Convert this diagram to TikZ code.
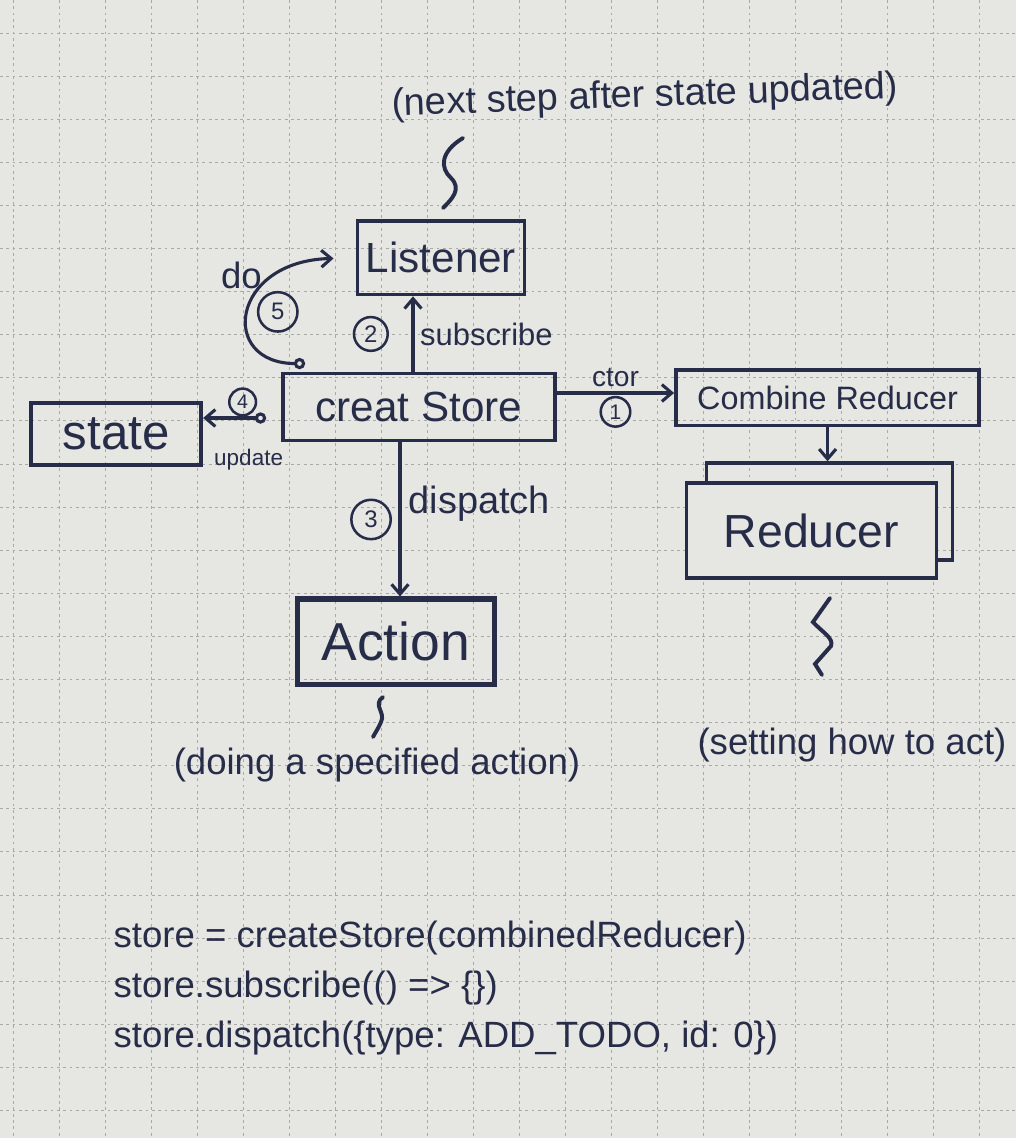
\documentclass[tikz,border=0pt]{standalone}
\usepackage{fontspec}
\setmainfont{Liberation Sans}
\usetikzlibrary{arrows.meta,positioning,calc}
\definecolor{ink}{HTML}{272D48}
\definecolor{paper}{HTML}{E6E7E3}
\definecolor{gridc}{HTML}{A9AAA6}
\newcommand{\fs}[1]{\fontsize{#1}{#1}\selectfont}

\begin{document}
\begin{tikzpicture}[
  x=0.025cm, y=-0.025cm,
  box/.style={draw=ink,line width=2.6pt,inner sep=0pt,text=ink},
  lbl/.style={text=ink,inner sep=1pt},
  num/.style={draw=ink,circle,line width=1.8pt,inner sep=1pt,minimum size=24pt,text=ink,font=\fs{17}},
  ar/.style={-{Straight Barb[length=7pt,width=12pt]},line width=2.2pt,draw=ink},
  squig/.style={line width=2.8pt,draw=ink,line cap=round},
  gridline/.style={draw=gridc,line width=0.6pt,dash pattern=on 2pt off 2.5pt}
]
\useasboundingbox (0,0) rectangle (1016,1138);
\fill[paper] (0,0) rectangle (1016,1138);
\foreach \gx in {0,...,21} \draw[gridline] ({13+46*\gx},0) -- ({13+46*\gx},1138);
\foreach \gy in {0,...,25} \draw[gridline] (0,{33+43.1*\gy}) -- (1016,{33+43.1*\gy});

% boxes
\node[box,minimum width=6.8cm,minimum height=1.68cm,font=\fs{30}] (store) at (419,407) {creat Store};
\node[box,minimum width=4.18cm,minimum height=1.83cm,font=\fs{30},above=1.88cm of store,xshift=0.55cm] (listener) {Listener};
\node[box,minimum width=4.25cm,minimum height=1.55cm,font=\fs{35},left=1.95cm of store,yshift=-0.68cm] (state) {state};
\node[box,minimum width=7.58cm,minimum height=1.38cm,font=\fs{23},right=2.93cm of store,yshift=0.23cm] (combine) {Combine Reducer};
\node[box,minimum width=6.25cm,minimum height=2.38cm,font=\fs{33},below=1.35cm of combine,xshift=-0.4cm] (reducer) {Reducer};
\node[box,minimum width=6.15cm,minimum height=2.43cm] (reducerback) at ($(reducer)+(18,-19)$) {};
\node[box,fill=paper,minimum width=6.25cm,minimum height=2.38cm,font=\fs{33}] (reducer) at (reducer) {Reducer};
\node[box,line width=3.6pt,minimum width=4.93cm,minimum height=2.13cm,font=\fs{38},below=3.85cm of store,xshift=-0.58cm] (action) {Action};

% notes
\node[lbl,font=\fs{27},rotate=2] (nexttxt) at (645,97) {(next step after state updated)};
\node[lbl,font=\fs{26}] (doingtxt) at (377,765) {(doing a specified action)};
\node[lbl,font=\fs{26}] (settingtxt) at (852,745) {(setting how to act)};
\node[lbl,font=\fontsize{26}{35.5}\selectfont,align=left,anchor=north west] (code) at (112,919)
  {store = createStore(combinedReducer)\\
   store.subscribe(() => \{\})\\
   store.dispatch(\{type: ADD\_TODO, id: 0\})};

% squiggles
\draw[squig] (463,138) .. controls (440,152) and (440,168) .. (451,178) .. controls (462,189) and (452,199) .. (443,208);
\draw[squig] (383,697) .. controls (372,705) and (386,712) .. (381,722) .. controls (378,729) and (375,733) .. (373,737);
\draw[squig] (830,598) -- (813,622) .. controls (822,632) and (834,638) .. (831,646) -- (815,664) -- (822,675);

% connectors
\coordinate (sub) at (413,0);
\coordinate (dsp) at (400,0);
\coordinate (ctorln) at (0,393);
\coordinate (updstart) at ($(store.west)+(-15,11)$);
\coordinate (dostart) at ($(store.north west)+(24,-8)$);

\draw[ar] (store.north -| sub) -- node[lbl,right=3pt,font=\fs{22}] (sublbl) {subscribe}
  node[num,left=0.6cm] (n2) {2} (listener.south -| sub);
\draw[ar] (store.south -| dsp) -- node[lbl,right=4pt,pos=.4,font=\fs{27}] (dsplbl) {dispatch}
  node[num,left=0.2cm,minimum height=28pt] (n3) {3} (action.north -| dsp);
\draw[ar] (store.east |- ctorln) -- node[lbl,above=2pt,font=\fs{20}] (ctorlbl) {ctor}
  node[num,below=2pt,minimum size=21pt,font=\fs{15}] (n1) {1} (combine.west |- ctorln);
\draw[ar,{Circle[open,length=8pt]}-{Straight Barb[length=7pt,width=12pt]}] (updstart) -- node[num,above=1pt,xshift=0.2cm,minimum size=19pt,font=\fs{14}] (n4) {4}
  node[lbl,below=0.7cm,xshift=0.35cm,font=\fs{16}] (updlbl) {update} (state.east |- updstart);
\draw[ar,{Circle[open,length=8pt]}-{Straight Barb[length=7pt,width=12pt]},shorten >=0.55cm] (dostart) .. controls +(-87,0) and +(-125,3) ..
  node[num,pos=.5,right=0.15cm,minimum height=28pt] (n5) {5}
  node[lbl,pos=.75,left=0.45cm,font=\fs{26}] (dolbl) {do} (listener.west);
\draw[ar] (combine.south) -- (combine.south |- reducerback.north);
\end{tikzpicture}
\end{document}
